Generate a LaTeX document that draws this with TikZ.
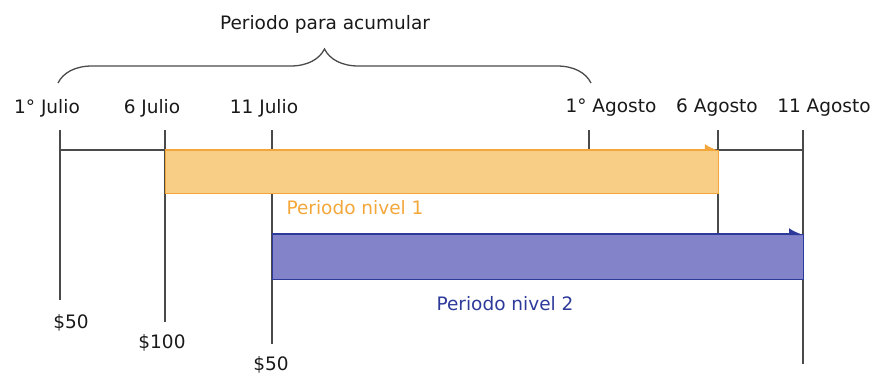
\documentclass[tikz,border=0pt]{standalone}
\usepackage{fontspec}
\setmainfont{DejaVu Sans}
\usepackage{tikz}
\usetikzlibrary{arrows.meta, decorations.pathreplacing}

\definecolor{naranja}{HTML}{F3A73A}
\definecolor{naranjafondo}{HTML}{F8CD85}
\definecolor{azul}{HTML}{2E3A9A}
\definecolor{azulfondo}{HTML}{8383CA}
\definecolor{gris}{HTML}{4A4A4A}

\begin{document}
\begin{tikzpicture}[x=1pt, y=-1pt]
        \tikzstyle{texto} = [font=\fontsize{18.5}{21}\selectfont, text=black!90, inner sep=0pt]
        \tikzstyle{marca} = [draw=gris, line width=1.5pt]
        \tikzstyle{nivel1} = [fill=naranjafondo, draw=naranja, line width=0.8pt]
        \tikzstyle{nivel2} = [fill=azulfondo, draw=azul, line width=0.8pt]
        \useasboundingbox (0,0) rectangle (873,377);
        % fechas
        \node[texto] (j1) at (47,108) {1° Julio};
        \node[texto] (j6) at (152,108) {6 Julio};
        \node[texto] (j11) at (264,108) {11 Julio};
        \node[texto] (a1) at (611,108) {1° Agosto};
        \node[texto] (a6) at (717,108) {6 Agosto};
        \node[texto] (a11) at (824,108) {11 Agosto};
        % montos
        \node[texto] (m1) at (71,323) {\$50};
        \node[texto] (m2) at (162,343) {\$100};
        \node[texto] (m3) at (271,365) {\$50};
        % marcas
        \coordinate (tj1) at (60,130);  \coordinate (bj1) at (60,300);
        \coordinate (tj6) at (165,130); \coordinate (bj6) at (165,322);
        \coordinate (tj11) at (272,130); \coordinate (bj11) at (272,344);
        \coordinate (ta1) at (589,130); \coordinate (ba1) at (589,150);
        \coordinate (ta6) at (718,130); \coordinate (ba6) at (718,234);
        \coordinate (ta11) at (803,130); \coordinate (ba11) at (803,364);
        \draw[marca] (tj1) -- (bj1);
        \draw[marca] (tj6) -- (bj6);
        \draw[marca] (tj11) -- (bj11);
        \draw[marca] (ta1) -- (ba1);
        \draw[marca] (ta6) -- (ba6);
        \draw[marca] (ta11) -- (ba11);
        \draw[marca] (tj1 |- ba1) -- (ta11 |- ba1);
        % periodos
        \draw[nivel1] (165,150) rectangle (718,193);
        \draw[naranja, line width=1.4pt, -{Latex[harpoon, length=12pt, width=12pt]}] (165,150) -- (719,150);
        \node[text=naranja, font=\fontsize{18.5}{21}\selectfont, inner sep=0pt] (p1) at (355,208) {Periodo nivel 1};
        \draw[nivel2] (272,234) rectangle (803,279);
        \draw[azul, line width=2pt, -{Latex[harpoon, length=12pt, width=12pt]}] (272,234) -- (804,234);
        \node[text=azul, font=\fontsize{18.5}{21}\selectfont, inner sep=0pt] (p2) at (505,304) {Periodo nivel 2};
        % acumulacion
        \draw[gris, line width=1.3pt, decorate, decoration={brace, amplitude=34pt}] (58,83) -- (591,83);
        \node[texto] (acum) at (325,24) {Periodo para acumular};
\end{tikzpicture}
\end{document}
